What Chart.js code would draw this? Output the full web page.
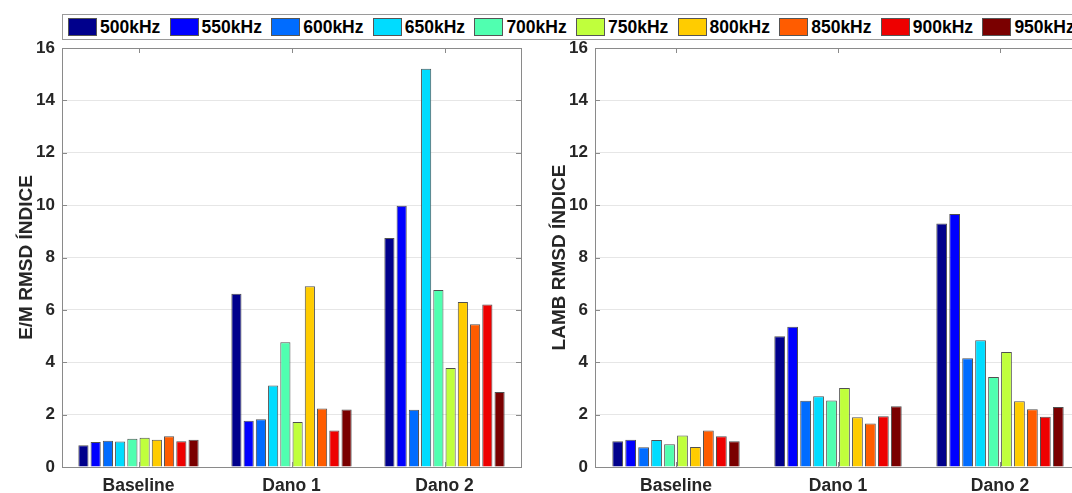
<!DOCTYPE html>
<html>
<head>
<meta charset="utf-8">
<script src="https://cdn.jsdelivr.net/npm/chart.js@4/dist/chart.umd.min.js"></script>
<style>
  html, body { margin:0; padding:0; background:#fff; width:1072px; height:493px; overflow:hidden; position:relative;
    font-family:"Liberation Sans", Arial, Helvetica, sans-serif; }
  canvas { position:absolute; top:0; }
  #legend { position:absolute; left:62px; top:14px; width:1040px; height:24px; border:1px solid #9a9a9a; background:#fff; z-index:2; }
  .item { position:absolute; top:3px; height:18px; display:flex; align-items:center; font-weight:bold; font-size:17.5px;
    color:#000; white-space:nowrap; }
  .sw { width:29px; height:18px; border:1px solid #555; margin-right:3px; box-sizing:border-box; }
</style>
</head>
<body>
<div id="legend"></div>
<canvas id="em" width="540" height="493" style="left:0"></canvas>
<canvas id="lamb" width="560" height="493" style="left:533px"></canvas>
<script>
// Test conditions and excitation frequencies
const categories = ['Baseline', 'Dano 1', 'Dano 2'];
const frequencies = ['500kHz', '550kHz', '600kHz', '650kHz', '700kHz', '750kHz', '800kHz', '850kHz', '900kHz', '950kHz'];
const colors = ['#00008c', '#0000ff', '#006cff', '#00dcff', '#50ffb0', '#c0ff3c', '#ffcc00', '#ff5c00', '#ee0000', '#7a0000'];

// E/M RMSD index, one value per frequency
const emBaseline = [0.83, 0.95, 1.00, 0.97, 1.08, 1.12, 1.04, 1.17, 0.98, 1.04];
const emDano1    = [6.62, 1.77, 1.82, 3.11, 4.76, 1.72, 6.90, 2.23, 1.39, 2.20];
const emDano2    = [8.74, 9.98, 2.19, 15.21, 6.76, 3.78, 6.30, 5.45, 6.21, 2.86];

// Lamb-wave RMSD index, one value per frequency
const lambBaseline = [0.98, 1.04, 0.75, 1.03, 0.87, 1.20, 0.76, 1.39, 1.17, 0.98];
const lambDano1    = [4.99, 5.36, 2.53, 2.70, 2.54, 3.02, 1.90, 1.66, 1.94, 2.32];
const lambDano2    = [9.30, 9.66, 4.15, 4.84, 3.44, 4.39, 2.51, 2.21, 1.92, 2.29];

const yTicks = [0, 2, 4, 6, 8, 10, 12, 14, 16];

const FONT = '"Liberation Sans", Arial, Helvetica, sans-serif';
const AXIS_GRAY = '#8a8a8a';
const TEXT = '#262626';

// Shared legend row
const legend = document.getElementById('legend');
frequencies.forEach((f, i) => {
  const it = document.createElement('div');
  it.className = 'item';
  it.style.left = (5 + i * 101.6) + 'px';
  const sw = document.createElement('div');
  sw.className = 'sw';
  sw.style.background = colors[i];
  const tx = document.createElement('span');
  tx.textContent = f;
  it.appendChild(sw);
  it.appendChild(tx);
  legend.appendChild(it);
});

// Box around the plot area with short inward tick marks
const boxPlugin = {
  id: 'boxFrame',
  afterDatasetsDraw(chart) {
    const { ctx, chartArea: a, scales } = chart;
    ctx.save();
    ctx.strokeStyle = AXIS_GRAY;
    ctx.lineWidth = 1;
    ctx.strokeRect(Math.round(a.left) + 0.5, Math.round(a.top) + 0.5,
                   Math.round(a.right - a.left), Math.round(a.bottom - a.top));
    ctx.beginPath();
    yTicks.forEach(v => {
      const y = Math.round(scales.y.getPixelForValue(v)) + 0.5;
      ctx.moveTo(a.left, y); ctx.lineTo(a.left + 5, y);
      ctx.moveTo(a.right - 5, y); ctx.lineTo(a.right, y);
    });
    categories.forEach((c, i) => {
      const x = Math.round(scales.x.getPixelForValue(i)) + 0.5;
      ctx.moveTo(x, a.bottom); ctx.lineTo(x, a.bottom - 5);
      ctx.moveTo(x, a.top); ctx.lineTo(x, a.top + 5);
    });
    ctx.stroke();
    ctx.restore();
  }
};

function buildChart(id, title, rows, padRight) {
  const datasets = frequencies.map((f, i) => ({
    label: f,
    data: rows.map(r => r[i]),
    backgroundColor: colors[i],
    borderColor: '#505050',
    borderWidth: 1,
    categoryPercentage: 0.8,
    barPercentage: 0.83
  }));
  return new Chart(document.getElementById(id), {
    type: 'bar',
    data: { labels: categories, datasets },
    plugins: [boxPlugin],
    options: {
      responsive: false,
      animation: false,
      layout: { padding: { top: 48, right: padRight, bottom: 0, left: 0 } },
      plugins: { legend: { display: false }, tooltip: { enabled: false } },
      scales: {
        x: {
          grid: { display: false, drawTicks: false },
          border: { display: false },
          ticks: { color: TEXT, padding: 9, font: { family: FONT, size: 17.5, weight: 'bold' } },
          afterFit(s) { s.height = 26; }
        },
        y: {
          min: 0, max: 16,
          afterBuildTicks(s) { s.ticks = yTicks.map(v => ({ value: v })); },
          grid: { color: '#e6e6e6', drawTicks: false },
          border: { display: false },
          ticks: { color: TEXT, padding: 7, font: { family: FONT, size: 17, weight: 'bold' } },
          title: {
            display: true, text: title, color: TEXT,
            padding: { top: 15, bottom: 0 },
            font: { family: FONT, size: 19, weight: 'bold' }
          },
          afterFit(s) { s.width = 62; }
        }
      }
    }
  });
}

buildChart('em', 'E/M RMSD ÍNDICE', [emBaseline, emDano1, emDano2], 19);
buildChart('lamb', 'LAMB RMSD ÍNDICE', [lambBaseline, lambDano1, lambDano2], 12);
</script>
</body>
</html>
